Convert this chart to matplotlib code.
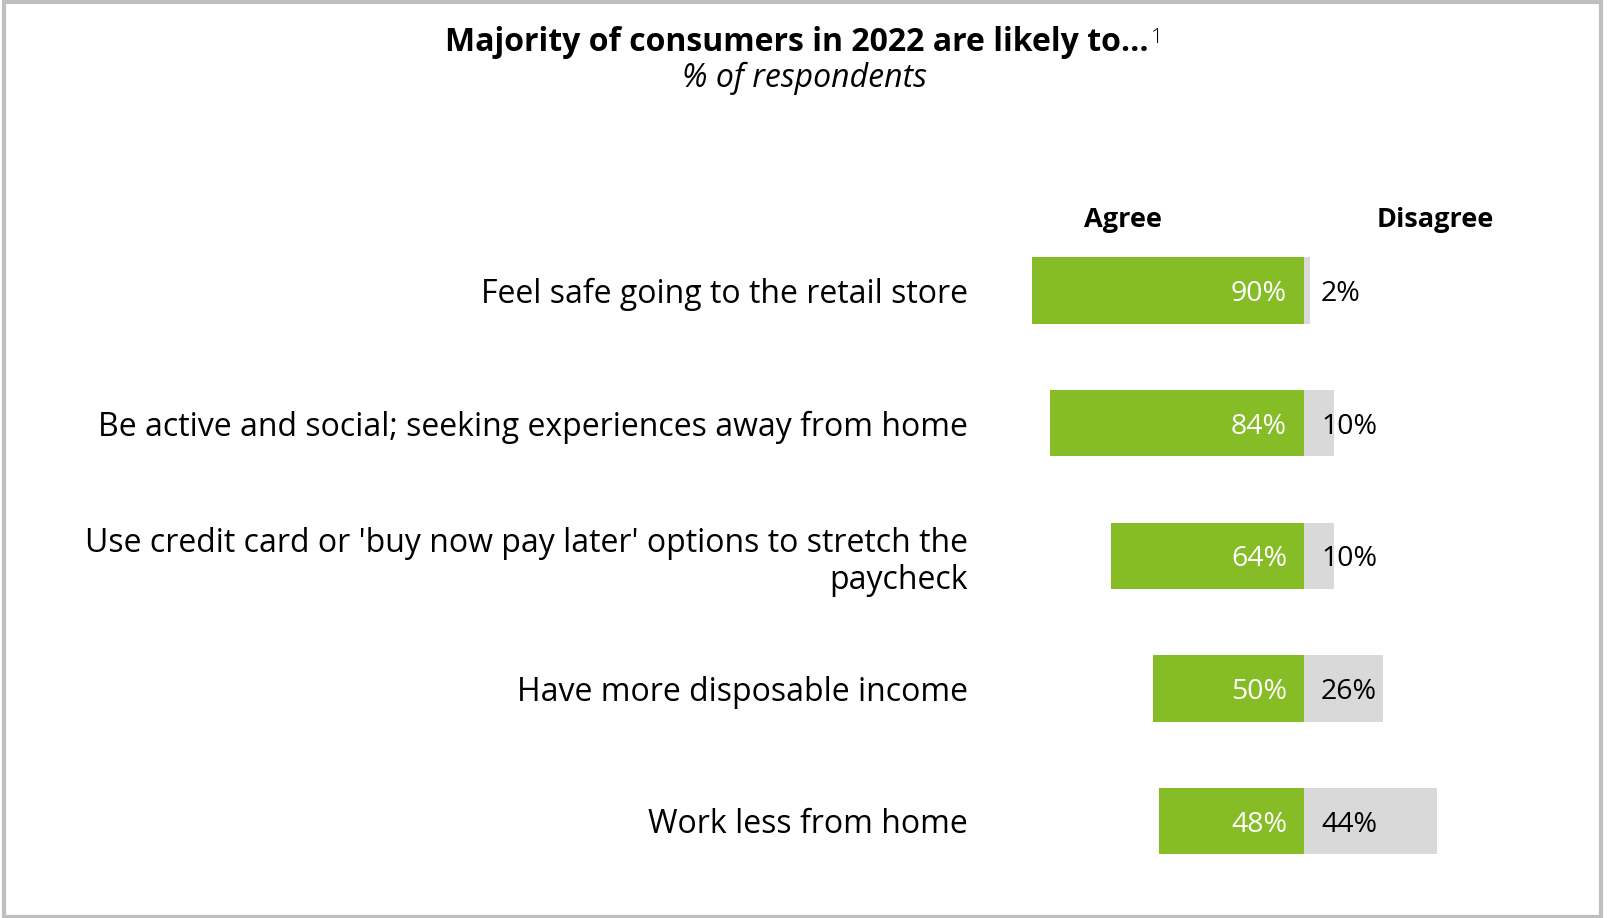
import matplotlib
matplotlib.use("Agg")
import matplotlib.pyplot as plt
from matplotlib.patches import Rectangle

plt.rcParams['font.family'] = ['Open Sans', 'DejaVu Sans']

statements = [
    "Feel safe going to the retail store",
    "Be active and social; seeking experiences away from home",
    "Use credit card or 'buy now pay later' options to stretch the\npaycheck",
    "Have more disposable income",
    "Work less from home",
]
agree = [90, 84, 64, 50, 48]
disagree = [2, 10, 10, 26, 44]

GREEN = "#86bc25"
GREY = "#d9d9d9"

W, H = 1608, 918
fig = plt.figure(figsize=(W / 100, H / 100), dpi=100)

# axes: x in percent, zero line at 1304 px, 3.02 px per percent
x0 = 1304
ppp = 3.02
left_px = x0 - 100 * ppp
ax = fig.add_axes([left_px / W, (H - 887.3) / H, 200 * ppp / W, 663 / H])
ax.set_xlim(-100, 100)
ax.set_ylim(4.5, -0.5)

y = list(range(len(statements)))
ax.barh(y, [-a for a in agree], height=0.5, color=GREEN, edgecolor='none')
ax.barh(y, disagree, height=0.5, color=GREY, edgecolor='none')

# value labels, baseline set so the digits sit centred on the bar
pad = 17 / ppp
dy = 0.08
for i in y:
    ax.text(-pad, i + dy, f"{agree[i]}%", ha='right', va='baseline', color='white', fontsize=20.5)
    ax.text(pad, i + dy, f"{disagree[i]}%", ha='left', va='baseline', color='black', fontsize=20.5)

ax.set_yticks(y)
ax.set_yticklabels(statements, fontsize=23, ha='right', linespacing=1.15)
ax.tick_params(axis='y', length=0, pad=24.5)
ax.tick_params(axis='x', bottom=False, labelbottom=False)
for s in ax.spines.values():
    s.set_visible(False)

ax.text((1123 - x0) / ppp, -0.478, "Agree", ha='center', va='baseline',
        fontsize=19.5, fontweight='bold', clip_on=False)
ax.text((1435 - x0) / ppp, -0.478, "Disagree", ha='center', va='baseline',
        fontsize=19.5, fontweight='bold', clip_on=False)

# title with footnote marker; the pair is centred together
title = fig.text(0.5, 1 - 50.7 / H, "Majority of consumers in 2022 are likely to...",
                 ha='center', va='baseline', fontsize=23, fontweight='bold')
note = fig.text(0.5, 1 - 43 / H, "1", ha='left', va='baseline',
                fontsize=15, fontweight='light')
fig.canvas.draw()
gap = 2
shift = (note.get_window_extent().width + gap) / 2
title.set_x(0.5 - shift / W)
fig.canvas.draw()
note.set_x((title.get_window_extent().x1 + gap) / W)

fig.text(0.5, 1 - 87 / H, "% of respondents", ha='center', va='baseline',
         fontsize=23, style='italic')

# outer frame
fig.add_artist(Rectangle((4 / W, 1.5 / H), (W - 6.5) / W - 4 / W, 1 - 3 / H,
                         transform=fig.transFigure, fill=False,
                         edgecolor='#bfbfbf', linewidth=3))

fig.savefig("out.png", dpi=100)
